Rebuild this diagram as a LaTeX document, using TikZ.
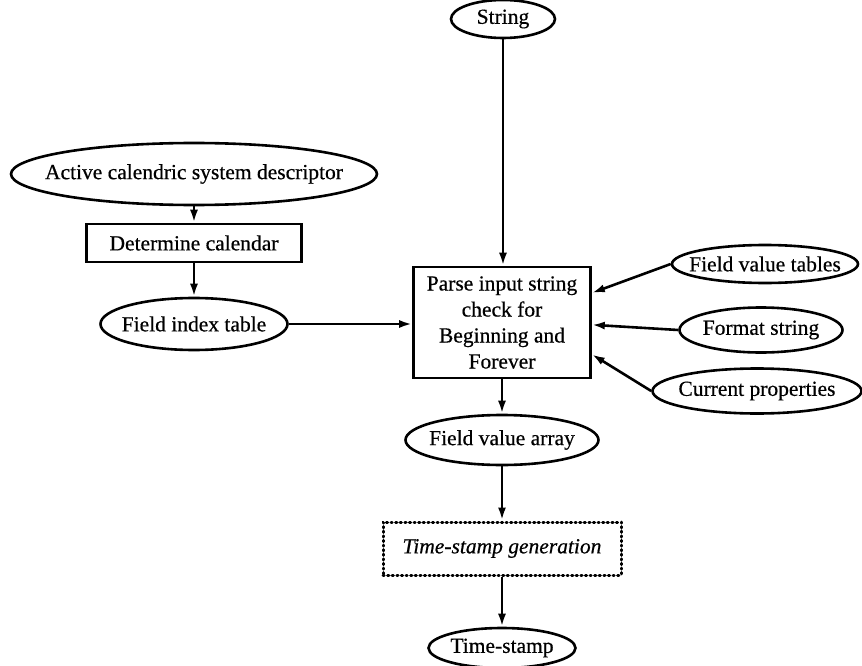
\documentclass[tikz,border=0pt]{standalone}
\usepackage{fontspec}
\setmainfont{Liberation Serif}[FakeBold=0.5]
\usetikzlibrary{shapes.geometric,arrows.meta,calc}
\newcommand{\ctext}[1]{\makebox[0pt]{#1}}
\tikzset{
  every node/.style={font=\fontsize{21.5}{26}\selectfont, text=black},
  oval/.style={draw, ellipse, line width=2.6pt, inner sep=0pt},
  procbox/.style={draw, rectangle, line width=2.6pt, inner sep=0pt, align=center},
  dotbox/.style={rectangle, inner sep=0pt, draw, line width=3pt, dash pattern=on 1.2pt off 3.4pt, line cap=round},
  conn/.style={line width=2.6pt, -{Latex[length=13pt,width=8pt]}},
}
\begin{document}
\begin{tikzpicture}[x=1pt,y=-1pt]
\useasboundingbox (0,0) rectangle (862,666);
\node[oval, minimum width=104pt, minimum height=38pt] (str) at (503,19) {\ctext{String}};
\node[oval, minimum width=366pt, minimum height=62pt] (acs) at (194,174) {\ctext{Active calendric system descriptor}};
\node[procbox, minimum width=215pt, minimum height=38pt] (det) at (194,243) {\ctext{Determine calendar}};
\node[oval, minimum width=187pt, minimum height=52pt] (fit) at (194,324) {\ctext{Field index table}};
\node[procbox, minimum width=177pt, minimum height=111pt] (parse) at (502,322.5) {Parse input string\\check for\\Beginning and\\Forever};
\node[oval, minimum width=186pt, minimum height=38pt] (fvt) at (765,264) {\ctext{Field value tables}};
\node[oval, minimum width=163pt, minimum height=45pt] (fmt) at (761,330) {\ctext{Format string}};
\node[oval, minimum width=209pt, minimum height=45pt] (cur) at (757,391) {\ctext{Current properties}};
\node[oval, minimum width=193pt, minimum height=50pt] (fva) at (502,440) {\ctext{Field value array}};
\node[dotbox, minimum width=238pt, minimum height=53pt] (tsg) at (502,548.5) {\ctext{\itshape Time-stamp generation}};
\node[oval, minimum width=147pt, minimum height=40pt] (ts) at (502,648) {\ctext{Time-stamp}};

\draw[conn] (acs.south) -- (det.north);
\draw[conn] (det.south) -- (fit.north);
\draw[conn] (fit.east) -- (fit.east -| parse.west);
\draw[conn] (str.south) -- (str.south |- parse.north);
\draw[conn] (fvt.west) -- ($(parse.north east)!0.24!(parse.south east)$);
\draw[conn] (fmt.west) -- ($(parse.north east)!0.52!(parse.south east)$);
\draw[conn] (cur.west) -- ($(parse.north east)!0.78!(parse.south east)$);
\draw[conn] (parse.south) -- (fva.north);
\draw[conn] (fva.south) -- (tsg.north);
\draw[conn] (tsg.south) -- (ts.north);
\end{tikzpicture}
\end{document}
